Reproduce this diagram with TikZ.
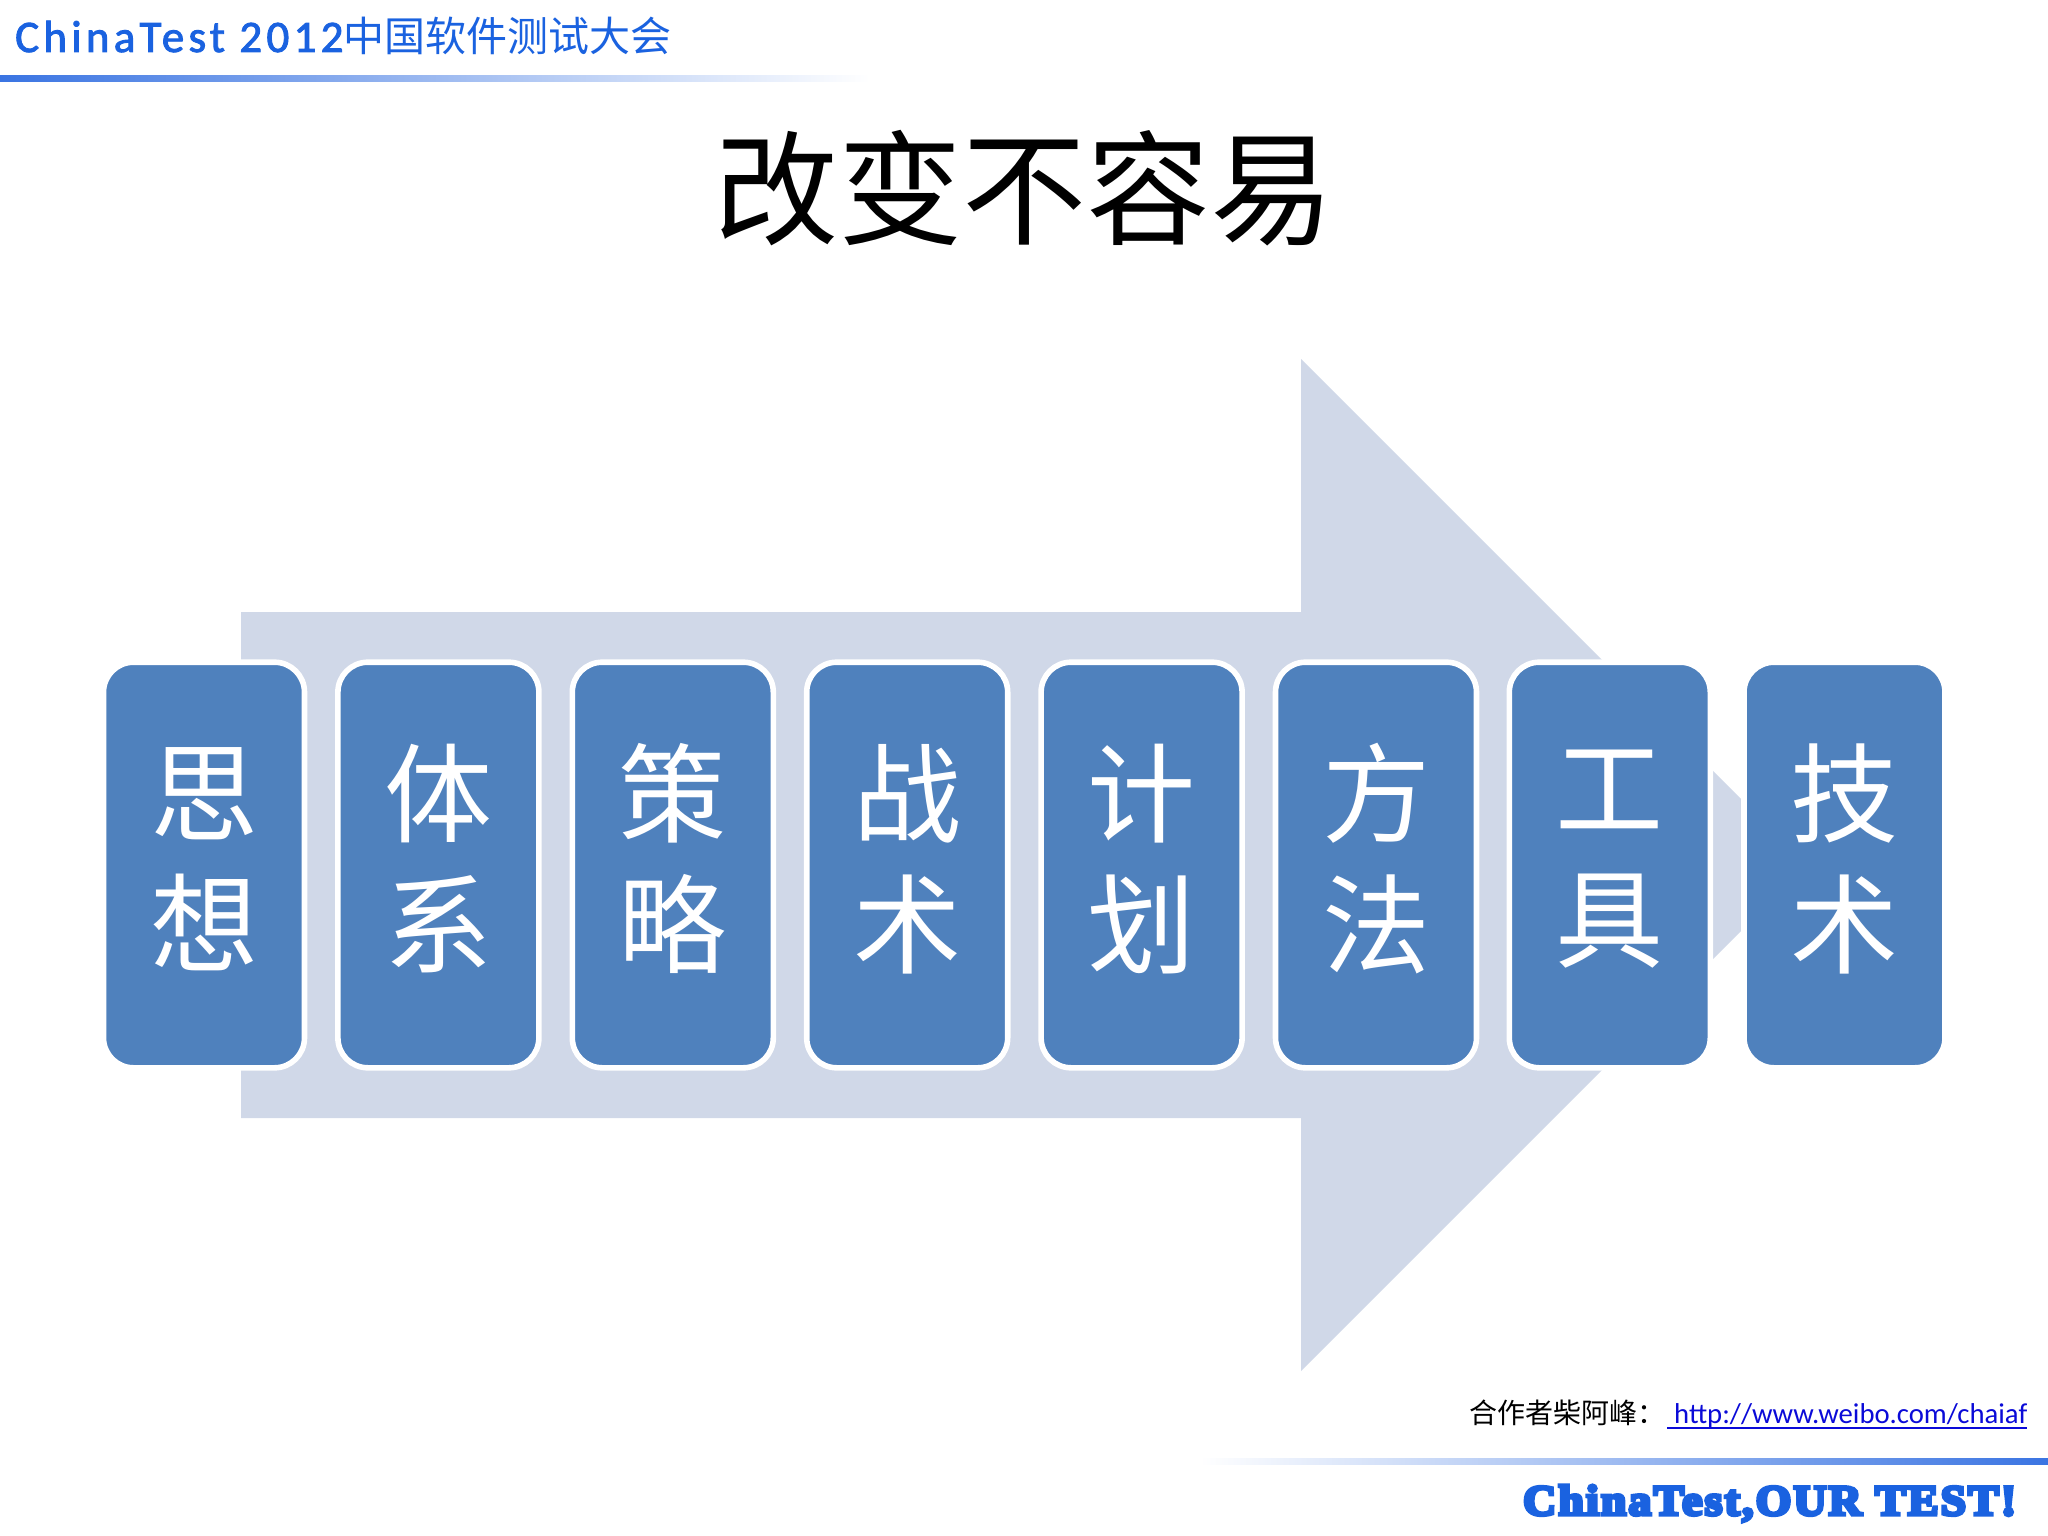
\documentclass[tikz,border=0pt]{standalone}
\usepackage{fontspec}
\setmainfont{Carlito}
\newfontfamily\cjk{Noto Sans CJK SC}
\newfontfamily\headlat[LetterSpace=9.5,FakeBold=2]{Carlito}
\newfontfamily\heavy[FakeBold=8,LetterSpace=5]{Liberation Serif}
\definecolor{boxblue}{HTML}{4F81BD}
\definecolor{arrowblue}{HTML}{D0D8E8}
\definecolor{headblue}{HTML}{1A62E0}
\definecolor{barblue}{HTML}{3A74E2}
\definecolor{barmid}{HTML}{B9CDF4}
\definecolor{linkblue}{HTML}{0A0AD8}
\tikzset{
  stagebox/.style={draw=white,line width=5.6pt,fill=boxblue,rounded corners=30pt,
    minimum width=201pt,minimum height=405.6pt,inner sep=0pt,text=white,align=center,
    font=\cjk\fontsize{108pt}{131pt}\selectfont},
  plain/.style={inner sep=0pt,anchor=base west},
}
\newcommand{\twolines}[2]{\raisebox{0pt}[0pt][0pt]{\parbox{150pt}{\centering #1\\#2}}}
\begin{document}
\begin{tikzpicture}[x=1pt,y=-1pt]
\useasboundingbox (0,0) rectangle (2048,1536);
\fill[white] (0,0) rectangle (2048,1536);
% header / footer bars
\shade[left color=barblue,middle color=barmid,right color=white] (0,76) rectangle (870,82);
\shade[left color=white,middle color=barmid,right color=barblue] (1200,1458) rectangle (2048,1464);
% texts
\node[plain,text=headblue,font=\headlat\fontsize{45pt}{50pt}\selectfont] (head) at (15,52) {ChinaTest 2012{\cjk\fontsize{41pt}{50pt}\selectfont 中国软件测试大会}};
\node[inner sep=0pt,font=\cjk\fontsize{124pt}{130pt}\selectfont] (title) at (1024,188) {改变不容易};
\node[plain,font=\cjk\fontsize{28pt}{32pt}\selectfont] (coop) at (1469,1423) {合作者柴阿峰：};
\node[plain,text=linkblue,font=\fontsize{28.7pt}{32pt}\selectfont] (link) at (1674,1423) {http://www.weibo.com/chaiaf};
\draw[linkblue,line width=1.5pt] (1667,1428) -- (2027,1428);
\node[plain,text=headblue,font=\heavy\bfseries\fontsize{43pt}{48pt}\selectfont] (slogan) at (1523,1515) {\scalebox{1.06}[1]{ChinaTest,OUR TEST!}};
% big arrow
\fill[arrowblue] (241,612) -- (1301,612) -- (1301,359) -- (1807,865) -- (1301,1371) -- (1301,1118) -- (241,1118) -- cycle;
% boxes
\node[stagebox] (b1) at (204,865) {\twolines{思}{想}};
\node[stagebox] (b2) at (438.4,865) {\twolines{体}{系}};
\node[stagebox] (b3) at (672.8,865) {\twolines{策}{略}};
\node[stagebox] (b4) at (907.2,865) {\twolines{战}{术}};
\node[stagebox] (b5) at (1141.6,865) {\twolines{计}{划}};
\node[stagebox] (b6) at (1376,865) {\twolines{方}{法}};
\node[stagebox] (b7) at (1609.8,865) {\twolines{工}{具}};
\node[stagebox] (b8) at (1844.5,865) {\twolines{技}{术}};
\end{tikzpicture}
\end{document}
